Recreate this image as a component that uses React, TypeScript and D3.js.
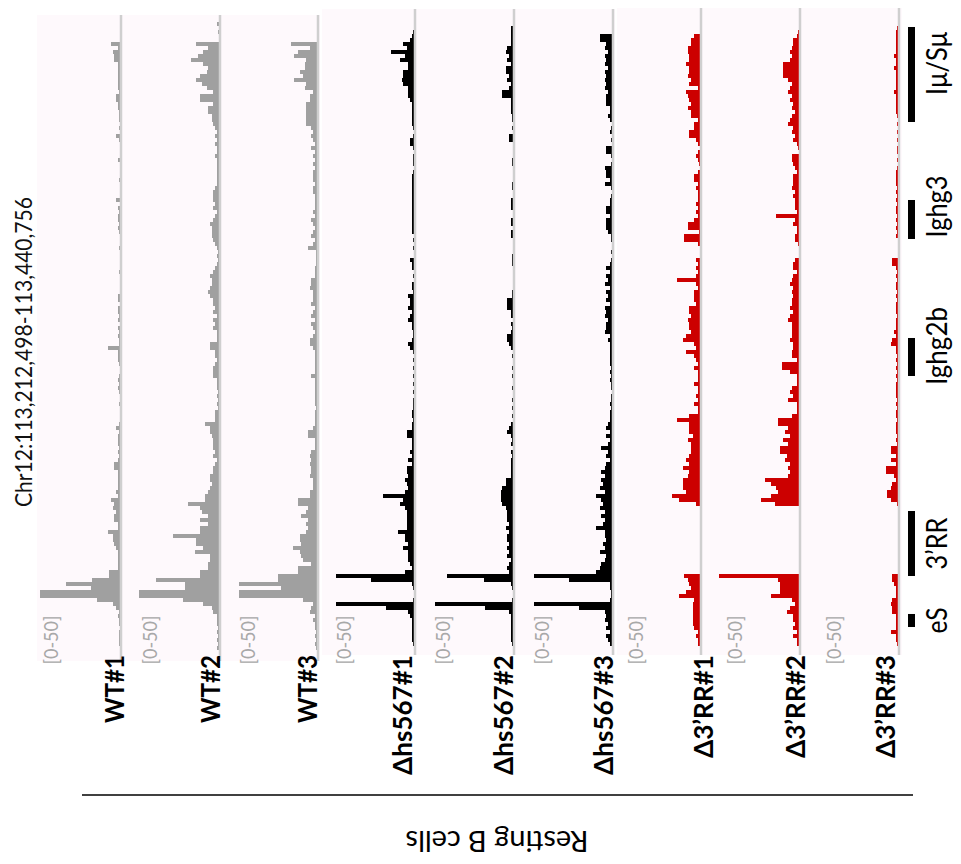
import React from 'react';
import * as d3 from 'd3';

// ---------- data ----------
const REGION_START = 113212498;
const REGION_END = 113440756;
const COV_TOP = 113438636; // upper coordinate of the first coverage bin
const BIN_BP = 1413; // bin size (bp)
const DATA_RANGE = [0, 50];

const trackNames = ['WT#1', 'WT#2', 'WT#3', 'Δhs567#1', 'Δhs567#2', 'Δhs567#3', 'Δ3’RR#1', 'Δ3’RR#2', 'Δ3’RR#3'];
const trackGroup = [0, 0, 0, 1, 1, 1, 2, 2, 2];
const rangeLabels = ['[0-50]', '[0-50]', '[0-50]', '[0-50]', '[0-50]', '[0-50]', '[0-50]', '[0-50]', '[0-50]'];

const wt1 = [
  0,0,0,0,0,0,6,2,5,4,4,2,2,2,2,2,2,2,1,3,
  3,2,2,1,1,1,0,1,0,3,1,0,0,0,0,2,0,0,0,0,
  1,0,0,0,0,3,0,2,1,2,2,1,2,1,0,0,0,1,0,0,
  0,0,0,1,0,0,0,0,0,2,2,0,2,2,1,2,0,2,1,2,
  1,1,8,2,2,2,1,0,0,1,2,1,2,1,0,0,1,0,0,0,
  0,1,3,1,2,2,2,1,2,1,2,4,4,2,2,2,2,2,3,2,
  6,4,5,3,4,4,2,2,8,5,5,4,3,2,2,2,2,2,7,7,
  17,33,18,48,48,14,5,3,1,2,1,1,0,1,1,1,1,0,0,0,
];
const wt2 = [
  0,2,0,1,0,0,14,7,10,13,17,10,7,8,12,14,11,8,4,12,
  12,4,7,7,5,5,4,3,2,3,2,3,2,2,3,2,2,2,2,2,
  2,2,3,4,4,4,3,4,2,3,4,6,5,5,5,4,3,2,1,2,
  1,2,3,4,6,5,5,6,7,6,4,4,3,4,2,4,3,4,2,2,
  2,6,6,3,3,2,3,4,4,4,2,2,2,1,2,1,2,1,3,3,
  3,9,6,6,5,4,4,4,3,4,2,3,4,4,6,6,5,6,7,9,
  9,19,12,11,7,12,7,12,12,28,14,14,10,15,6,6,7,7,12,12,
  38,21,21,48,48,22,10,5,4,2,2,2,1,2,1,2,1,2,0,0,
];
const wt3 = [
  0,0,0,0,0,0,16,5,12,14,7,8,8,11,9,14,7,8,3,5,
  5,7,7,7,7,7,7,4,3,4,3,2,4,2,3,2,3,2,3,3,
  3,2,3,3,2,2,2,2,3,2,4,3,2,3,4,2,3,6,1,1,
  1,1,2,2,2,4,4,5,3,3,3,4,2,3,4,2,4,3,2,3,
  5,5,3,2,2,2,2,2,2,4,2,2,2,2,2,2,2,1,2,2,
  2,2,3,6,6,2,2,2,4,5,4,5,4,4,5,3,3,3,5,5,
  12,12,6,7,10,6,7,6,7,11,11,10,15,11,10,9,4,12,12,24,
  24,47,22,47,47,9,3,4,5,2,3,2,2,1,2,1,2,1,0,0,
];
const hs1 = [
  0,0,0,1,2,3,7,5,14,6,9,4,4,7,7,8,7,4,4,4,
  3,2,2,2,2,2,2,1,0,1,3,3,1,0,1,1,1,0,1,2,
  2,2,2,2,2,2,2,2,2,2,2,2,2,2,0,1,0,1,0,0,
  3,2,2,0,1,0,2,2,1,4,3,3,4,2,3,4,2,2,1,1,
  2,4,3,1,0,1,0,1,0,1,0,1,0,1,0,1,1,1,2,2,
  1,2,2,5,5,2,2,2,3,2,4,2,5,5,4,6,5,4,6,19,
  7,9,6,5,5,5,5,5,10,6,6,4,7,4,4,4,3,2,6,47,
  26,2,1,0,0,1,47,17,4,3,2,2,2,2,2,2,1,0,0,0,
];
const hs2 = [
  0,0,2,2,2,2,2,4,5,3,4,2,5,5,3,4,2,3,7,7,
  2,2,2,2,1,1,0,1,0,3,3,0,0,0,0,1,1,0,0,0,
  0,1,1,0,0,2,2,2,0,0,2,2,0,2,2,0,0,0,0,1,
  1,1,0,0,0,0,0,0,1,1,4,4,4,2,2,0,2,1,2,4,
  4,3,2,0,1,0,0,1,0,1,0,0,1,0,0,1,0,1,0,1,
  0,2,3,4,2,1,2,0,2,1,2,2,2,2,2,5,5,7,8,8,
  8,7,5,4,4,4,3,5,3,4,4,3,4,3,4,2,3,4,3,40,
  18,2,1,0,0,1,47,17,3,2,2,2,2,2,2,2,1,0,0,0,
];
const hs3 = [
  0,0,0,0,8,8,4,5,3,5,4,5,3,5,4,5,4,5,3,4,
  4,4,2,2,3,2,0,1,2,0,1,0,4,4,1,0,1,5,4,4,
  2,5,1,0,1,2,2,4,4,2,4,4,4,3,1,1,0,0,1,0,
  1,2,4,2,4,3,5,2,4,3,4,2,5,4,5,3,4,4,5,2,
  3,2,2,2,2,2,2,1,2,1,2,1,1,0,1,1,2,1,2,2,
  2,3,4,2,4,2,3,7,3,4,2,4,5,7,5,7,6,8,5,10,
  7,6,8,5,7,5,6,10,5,5,4,6,5,8,4,5,7,8,10,47,
  26,2,2,1,1,2,47,20,5,4,5,3,4,2,4,3,2,0,0,0,
];
const rr1 = [
  0,0,0,0,4,6,6,8,8,7,7,9,7,7,8,6,7,2,9,8,
  7,6,8,6,6,2,4,4,7,7,3,2,0,2,3,2,1,0,2,4,
  4,2,3,2,2,2,3,2,3,2,4,8,8,1,10,10,2,0,0,0,
  3,2,3,2,3,14,3,2,4,4,4,3,7,7,6,8,7,7,6,9,
  11,4,3,9,4,3,2,4,2,2,2,4,2,2,3,2,4,2,2,7,
  14,7,7,7,5,8,6,6,6,7,9,7,11,7,8,11,11,11,9,17,
  13,3,0,0,0,0,0,0,0,0,0,0,0,0,0,0,0,0,0,10,
  8,7,6,9,13,4,5,5,5,5,5,5,4,2,3,2,2,0,0,0,
];
const rr2 = [
  0,0,0,1,2,4,4,5,6,5,6,10,10,10,10,7,5,6,7,5,
  6,4,5,3,5,6,7,4,5,3,4,2,1,0,5,5,4,3,2,4,
  4,4,5,3,4,3,3,3,2,14,3,4,2,2,3,3,1,0,0,0,
  3,4,4,2,4,5,6,4,5,4,5,5,6,4,6,7,5,5,5,5,
  6,4,4,5,5,2,11,11,6,2,2,2,5,6,4,7,2,2,2,5,
  13,13,7,9,6,10,7,12,12,8,9,6,7,6,7,21,17,14,13,17,
  23,15,0,0,0,0,0,0,0,0,0,0,0,0,0,0,0,0,0,48,
  13,12,12,12,17,5,3,6,8,4,4,3,4,2,4,2,2,0,0,0,
];
const rr3 = [
  0,0,1,2,2,2,2,2,2,3,2,2,3,2,2,2,2,2,3,2,
  2,2,2,2,1,0,1,0,1,0,1,0,1,1,0,1,0,1,2,2,
  2,2,1,2,1,2,1,2,2,1,2,1,2,1,2,0,0,0,0,0,
  4,4,2,1,2,1,2,2,1,2,1,2,2,2,1,2,2,2,3,2,
  4,5,2,2,1,2,1,2,1,2,1,2,2,2,2,1,2,1,2,2,
  1,2,2,2,1,2,1,5,5,2,5,2,8,8,3,2,4,5,7,7,
  5,1,0,0,0,0,0,0,0,0,0,0,0,0,0,0,0,0,0,4,
  4,3,2,2,2,4,5,4,4,2,2,2,2,5,2,2,1,0,0,0,
];
const coverage = [wt1, wt2, wt3, hs1, hs2, hs3, rr1, rr2, rr3];

const featureNames = ['Iμ/Sμ', 'Ighg3', 'Ighg2b', '3’RR', 'eS'];
const featureStart = [113401890, 113360550, 113312140, 113241470, 113223450];
const featureEnd = [113435460, 113374330, 113325570, 113264440, 113228050];

const titleText = 'Chr12:113,212,498-113,440,756';
const footerText = 'Resting B cells';

// ---------- layout / style ----------
const W = 961;
const H = 864;
const FONT = "Lato, 'Open Sans', 'DejaVu Sans', sans-serif";
const groupColor = ['#a0a0a0', '#000000', '#cc0000'];
const groupRect = [
  { x0: 37, x1: 320, y0: 15, y1: 661 },
  { x0: 322, x1: 615, y0: 9, y1: 655 },
  { x0: 617, x1: 902, y0: 8, y1: 655 },
];
const baselineX = [121, 220, 318, 415, 514, 613, 701, 800, 899];
const nameX = [124, 220, 317, 412, 513, 613, 713, 805, 895];
const nameLen = [68, 68, 68, 120, 120, 120, 103, 103, 103];
const rangeOffset = [-63, -64, -58];
const featureLabelDy = [-11, -13, -11, 0, 0];
const featureLabelLen = [63, 62, 78, 52, 26];

export default function App() {
  const y = d3.scaleLinear().domain([REGION_END, REGION_START]).range([12, 658]);
  const x = d3.scaleLinear().domain(DATA_RANGE).range([0, 84]);

  return (
    <svg width={W} height={H} style={{ position: 'absolute', left: 0, top: 0, background: '#fff' }} fontFamily={FONT}>
      <rect x={0} y={0} width={W} height={H} fill="#fff" />
      {groupRect.map((g, i) => (
        <rect key={'g' + i} x={g.x0} y={g.y0} width={g.x1 - g.x0} height={g.y1 - g.y0} fill="#fef9fc" />
      ))}
      {coverage.map((vals, t) => {
        const bx = baselineX[t];
        const col = groupColor[trackGroup[t]];
        return (
          <g key={'t' + t} shapeRendering="crispEdges">
            {vals.map((v, i) => {
              if (!v) return null;
              const top = y(COV_TOP - i * BIN_BP);
              const bot = y(COV_TOP - (i + 1) * BIN_BP);
              const w = x(Math.min(v, DATA_RANGE[1]));
              return <rect key={i} x={bx - w} y={top} width={w} height={bot - top} fill={col} />;
            })}
          </g>
        );
      })}
      {baselineX.map((bx, t) => {
        const g = groupRect[trackGroup[t]];
        return <line key={'b' + t} x1={bx} x2={bx} y1={g.y0} y2={g.y1} stroke="#cfcfcf" strokeWidth={2.5} />;
      })}
      {baselineX.map((bx, t) => (
        <text key={'r' + t} transform={`translate(${bx + rangeOffset[trackGroup[t]]},640) rotate(-90)`}
          textAnchor="middle" fontSize={19} fill="#a8a8a8" textLength={49} lengthAdjust="spacingAndGlyphs">
          {rangeLabels[t]}
        </text>
      ))}
      {trackNames.map((n, t) => (
        <text key={'n' + t} transform={`translate(${nameX[t]},655) rotate(-90)`} textAnchor="end"
          fontSize={27} fontWeight="bold" fill="#000" textLength={nameLen[t]} lengthAdjust="spacingAndGlyphs">
          {n}
        </text>
      ))}
      <text transform={`translate(32,352) rotate(-90)`} textAnchor="middle" fontSize={24} fill="#111"
        textLength={310} lengthAdjust="spacingAndGlyphs">{titleText}</text>
      {featureNames.map((f, i) => {
        const y0 = y(featureEnd[i]);
        const y1 = y(featureStart[i]);
        const cy = (y0 + y1) / 2 + featureLabelDy[i];
        return (
          <g key={'f' + i}>
            <rect x={908} y={y0} width={7} height={y1 - y0} fill="#000" />
            <text transform={`translate(947,${cy}) rotate(-90)`} textAnchor="middle" fontSize={28} fill="#000"
              textLength={featureLabelLen[i]} lengthAdjust="spacingAndGlyphs">{f}</text>
          </g>
        );
      })}
      <line x1={82} x2={913} y1={795} y2={795} stroke="#000" strokeWidth={1.5} />
      <text transform={`translate(497,831) rotate(180)`} textAnchor="middle" fontSize={28} fill="#000"
        textLength={183} lengthAdjust="spacingAndGlyphs">{footerText}</text>
    </svg>
  );
}
